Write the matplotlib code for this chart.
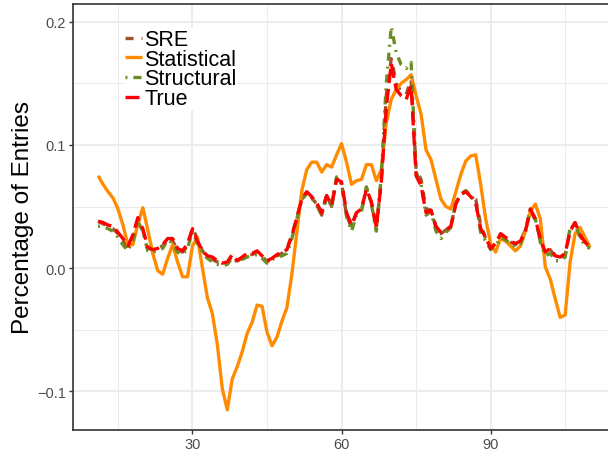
import matplotlib
matplotlib.use("Agg")
import matplotlib.pyplot as plt
import numpy as np

plt.rcParams['font.family'] = ['Liberation Sans', 'DejaVu Sans']
plt.rcParams['lines.scale_dashes'] = False

x = list(range(11, 111))

sre = [0.038, 0.036, 0.034, 0.032, 0.028, 0.022, 0.017, 0.024, 0.039, 0.031,
       0.016, 0.015, 0.016, 0.018, 0.025, 0.022, 0.015, 0.013, 0.018, 0.032,
       0.024, 0.014, 0.009, 0.007, 0.005, 0.003, 0.004, 0.010, 0.006, 0.008,
       0.011, 0.011, 0.013, 0.010, 0.005, 0.008, 0.010, 0.012, 0.016, 0.027,
       0.041, 0.056, 0.062, 0.057, 0.052, 0.043, 0.060, 0.050, 0.073, 0.069,
       0.043, 0.033, 0.045, 0.047, 0.065, 0.053, 0.032, 0.072, 0.140, 0.170,
       0.150, 0.143, 0.141, 0.153, 0.080, 0.072, 0.048, 0.047, 0.033, 0.028,
       0.031, 0.034, 0.053, 0.060, 0.062, 0.059, 0.056, 0.035, 0.024, 0.016,
       0.020, 0.027, 0.025, 0.021, 0.019, 0.022, 0.031, 0.047, 0.039, 0.023,
       0.012, 0.015, 0.009, 0.008, 0.011, 0.031, 0.037, 0.026, 0.020, 0.017]

statistical = [0.075, 0.068, 0.062, 0.057, 0.048, 0.035, 0.019, 0.019, 0.036, 0.049,
               0.031, 0.012, -0.002, -0.005, 0.008, 0.019, 0.005, -0.007, -0.007, 0.018,
               0.025, 0.000, -0.024, -0.037, -0.062, -0.098, -0.115, -0.090, -0.080, -0.068,
               -0.053, -0.044, -0.030, -0.031, -0.052, -0.063, -0.056, -0.043, -0.032, -0.005,
               0.029, 0.063, 0.080, 0.086, 0.086, 0.078, 0.084, 0.082, 0.092, 0.101,
               0.086, 0.068, 0.071, 0.072, 0.084, 0.084, 0.071, 0.080, 0.118, 0.137,
               0.145, 0.150, 0.153, 0.157, 0.140, 0.125, 0.096, 0.088, 0.072, 0.056,
               0.050, 0.048, 0.062, 0.076, 0.087, 0.091, 0.092, 0.068, 0.040, 0.020,
               0.013, 0.024, 0.022, 0.018, 0.014, 0.018, 0.030, 0.046, 0.052, 0.040,
               0.001, -0.009, -0.025, -0.040, -0.038, 0.005, 0.028, 0.033, 0.025, 0.017]

structural = [0.034, 0.034, 0.032, 0.030, 0.025, 0.019, 0.014, 0.022, 0.038, 0.030,
              0.014, 0.013, 0.014, 0.016, 0.023, 0.020, 0.013, 0.011, 0.016, 0.030,
              0.020, 0.012, 0.008, 0.005, 0.003, 0.002, 0.003, 0.008, 0.005, 0.007,
              0.009, 0.010, 0.011, 0.008, 0.004, 0.007, 0.009, 0.010, 0.012, 0.024,
              0.040, 0.055, 0.061, 0.057, 0.051, 0.043, 0.058, 0.049, 0.074, 0.068,
              0.042, 0.030, 0.043, 0.046, 0.066, 0.052, 0.030, 0.075, 0.150, 0.196,
              0.175, 0.165, 0.162, 0.167, 0.078, 0.068, 0.043, 0.046, 0.030, 0.024,
              0.029, 0.033, 0.053, 0.060, 0.063, 0.059, 0.054, 0.029, 0.022, 0.015,
              0.018, 0.025, 0.023, 0.020, 0.017, 0.020, 0.030, 0.048, 0.040, 0.021,
              0.010, 0.012, 0.006, 0.006, 0.009, 0.033, 0.036, 0.025, 0.018, 0.016]

true = [0.038, 0.037, 0.035, 0.034, 0.029, 0.024, 0.018, 0.027, 0.041, 0.032,
        0.017, 0.015, 0.016, 0.019, 0.024, 0.024, 0.016, 0.014, 0.020, 0.032,
        0.022, 0.014, 0.010, 0.009, 0.006, 0.004, 0.005, 0.011, 0.006, 0.009,
        0.012, 0.012, 0.014, 0.010, 0.006, 0.008, 0.011, 0.013, 0.015, 0.026,
        0.041, 0.056, 0.062, 0.058, 0.053, 0.045, 0.059, 0.051, 0.072, 0.070,
        0.045, 0.035, 0.045, 0.048, 0.064, 0.054, 0.033, 0.070, 0.130, 0.166,
        0.145, 0.140, 0.137, 0.148, 0.075, 0.067, 0.045, 0.047, 0.034, 0.029,
        0.031, 0.034, 0.052, 0.060, 0.062, 0.058, 0.053, 0.032, 0.025, 0.016,
        0.020, 0.028, 0.025, 0.022, 0.020, 0.022, 0.030, 0.048, 0.040, 0.024,
        0.013, 0.016, 0.010, 0.009, 0.012, 0.030, 0.037, 0.027, 0.021, 0.017]

labels = ["SRE", "Statistical", "Structural", "True"]
colors = ["#A0522D", "#FF8C00", "#6B8E23", "#FF0000"]
series = [sre, statistical, structural, true]
dashes = [(0, (5.8, 5.8)), "solid", (0, (1.4, 4.3, 5.8, 4.3)), (0, (10.1, 4.3))]

W, H = 608, 456
fig = plt.figure(figsize=(W / 100, H / 100), dpi=100)
left, right, top, bottom = 73, 614.6, 5, 431
ax = fig.add_axes([left / W, (H - bottom) / H, (right - left) / W, (bottom - top) / H])

for lab, col, ys, ls in zip(labels, colors, series, dashes):
    ax.plot(x, ys, color=col, linestyle=ls, linewidth=2.4, label=lab,
            dash_capstyle='butt', solid_capstyle='butt')

ax.set_xlim(5.95, 114.95)
ax.set_ylim(-0.1314, 0.2144)
ax.set_xticks([30, 60, 90])
ax.set_xticks([15, 45, 75, 105], minor=True)
ax.set_yticks([-0.1, 0.0, 0.1, 0.2])
ax.set_yticklabels(["\u22120.1", "0.0", "0.1", "0.2"])
ax.set_yticks([-0.05, 0.05, 0.15], minor=True)
ax.grid(True, which='major', color='#EBEBEB', linewidth=1.3, zorder=0)
ax.grid(True, which='minor', color='#EBEBEB', linewidth=0.7, zorder=0)
ax.set_axisbelow(True)
ax.tick_params(which='major', length=3, width=1.0, color='#333333',
               labelsize=10.5, labelcolor='#4D4D4D', pad=2)
ax.tick_params(which='minor', length=0)
for s in ax.spines.values():
    s.set_color('#333333')
    s.set_linewidth(1.2)

ax.set_ylabel("Percentage of Entries", fontsize=17.5, labelpad=2)

leg = ax.legend(loc='upper left', bbox_to_anchor=((124 - left) / (right - left), (bottom - 29) / (bottom - top)),
                frameon=True, fancybox=False, framealpha=1.0, facecolor='white', edgecolor='none',
                fontsize=15.5, borderpad=0.05, borderaxespad=0, handlelength=0.78,
                handletextpad=0.1, labelspacing=-0.06)

fig.savefig("out.png", dpi=100)
